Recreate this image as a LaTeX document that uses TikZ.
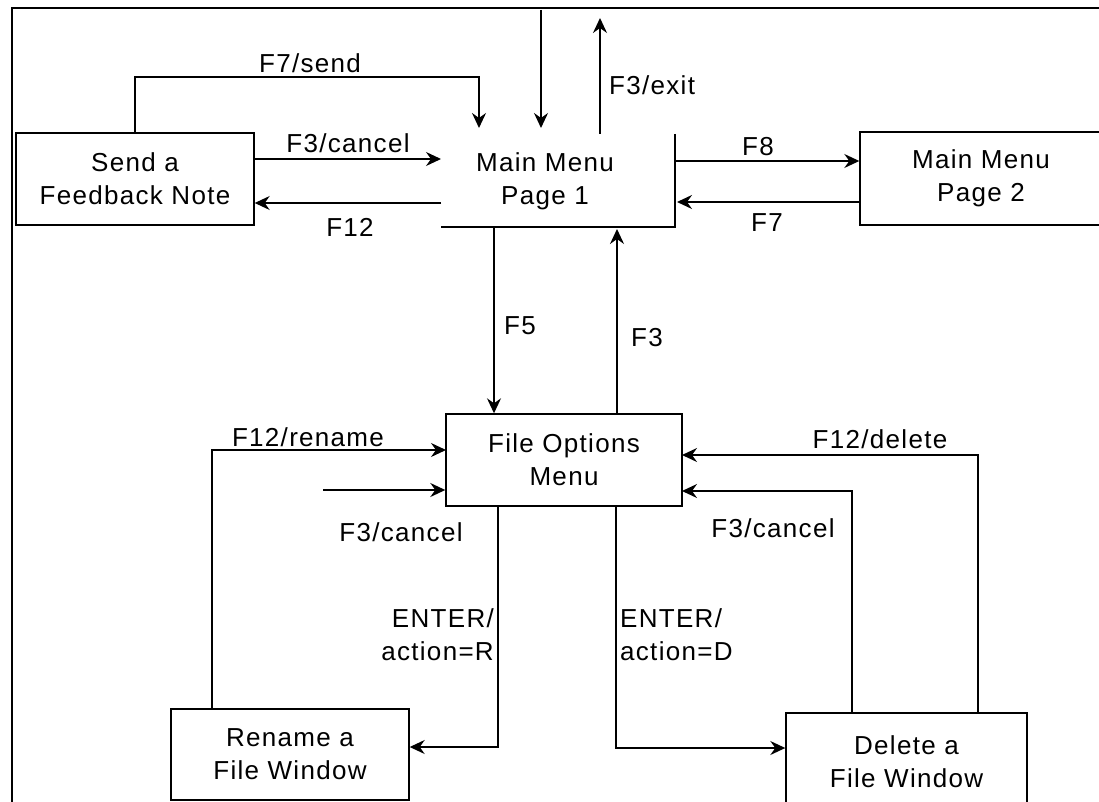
\documentclass[tikz,border=0pt]{standalone}
\usepackage{fontspec}
\setmainfont{Liberation Sans}[LetterSpace=5]
\usetikzlibrary{calc,positioning,arrows.meta}

\tikzset{
  screen/.style={draw, line width=1.4pt, align=center, inner sep=0pt},
  flow/.style={line width=1.5pt, -{Stealth[length=15pt,width=14pt,inset=5pt]}},
  lbl/.style={inner sep=1pt}
}

\begin{document}
\begin{tikzpicture}[x=1pt, y=-1pt, font=\fontsize{26}{33}\selectfont]
  \useasboundingbox (0,0) rectangle (1099,802);
  % outer frame (top and left only)
  \draw[line width=2.5pt] (12,802) -- (12,8) -- (1099,8);

  % screens
  \node[screen, minimum width=238pt, minimum height=92pt] (send) at (135,179) {Send a\\Feedback Note};
  \node[align=center] (mainA) at (545,181) {Main Menu\\Page 1};
  \node[screen, minimum width=242pt, minimum height=93pt] (mainB) at (981,178.5) {Main Menu\\Page 2};
  \node[screen, minimum width=236pt, minimum height=92pt] (fileopt) at (564,460) {File Options\\Menu};
  \node[screen, minimum width=238pt, minimum height=91pt] (rename) at (290,754.5) {Rename a\\File Window};
  \node[screen, minimum width=241pt, minimum height=98pt] (delete) at (906.5,762) {Delete a\\File Window};

  % main menu page 1 has only a right and a bottom edge
  \coordinate (mainNE) at (675,134);
  \coordinate (mainSW) at (441,227);
  \draw[line width=1.4pt] (mainNE) -- (mainNE |- mainSW) -- (mainSW);

  \coordinate (mainN) at (545,128);
  \coordinate (topIn) at (541,10);
  \coordinate (exitEnd) at (600,18);
  \coordinate (sendBend) at (479,77);
  \coordinate (mainW1) at (441,159);
  \coordinate (mainW2) at (441,203);
  \coordinate (mainE1) at (675,161);
  \coordinate (mainE2) at (677,202);
  \coordinate (mainS1) at (494,227);
  \coordinate (mainS2) at (617,229);
  \coordinate (foW1) at (446,450);
  \coordinate (cancelIn) at (323,490);
  \coordinate (foE1) at (682,455);
  \coordinate (foE2) at (682,491);
  \coordinate (foS1) at (498,506);
  \coordinate (foS2) at (616,506);

  % transitions
  \draw[flow] (send.north) |- (sendBend) -- (sendBend |- mainN);
  \draw[flow] (topIn) -- (topIn |- mainN);
  \draw[flow] (exitEnd |- mainNE) -- (exitEnd);
  \draw[flow] (send.east |- mainW1) -- (mainW1);
  \draw[flow] (mainW2) -- (send.east |- mainW2);
  \draw[flow] (mainE1) -- (mainB.west |- mainE1);
  \draw[flow] (mainB.west |- mainE2) -- (mainE2);
  \draw[flow] (mainS1) -- (fileopt.north -| mainS1);
  \draw[flow] (fileopt.north -| mainS2) -- (mainS2);
  \draw[flow] ([xshift=-78pt]rename.north) |- (foW1);
  \draw[flow, line width=2pt] (cancelIn) -- (cancelIn -| fileopt.west);
  \draw[flow] ([xshift=71.5pt]delete.north) |- (foE1);
  \draw[flow] ([xshift=-54.5pt]delete.north) |- (foE2);
  \draw[flow] (foS1) |- ([yshift=7.5pt]rename.east);
  \draw[flow] (foS2) |- ([yshift=14pt]delete.west);

  % labels
  \node[lbl] (lSend) at (310,63) {F7/send};
  \node[lbl] (lCancelA) at (348,143) {F3/cancel};
  \node[lbl] (lBack) at (350,227) {F12};
  \node[lbl, anchor=west] (lExit) at (608,85) {F3/exit};
  \node[lbl] (lNext) at (758,147) {F8};
  \node[lbl] (lPrev) at (767,223) {F7};
  \node[lbl] (lFile) at (520,326) {F5};
  \node[lbl] (lUp) at (647,338) {F3};
  \node[lbl] (lRename) at (308,437) {F12/rename};
  \node[lbl] (lCancelB) at (401,532) {F3/cancel};
  \node[lbl] (lCancelC) at (773,528) {F3/cancel};
  \node[lbl] (lDelete) at (880,439) {F12/delete};
  \node[lbl, anchor=east, align=right] (lEnterR) at (495,635) {ENTER/\\action=R};
  \node[lbl, anchor=west, align=left] (lEnterD) at (619,635) {ENTER/\\action=D};
\end{tikzpicture}
\end{document}
